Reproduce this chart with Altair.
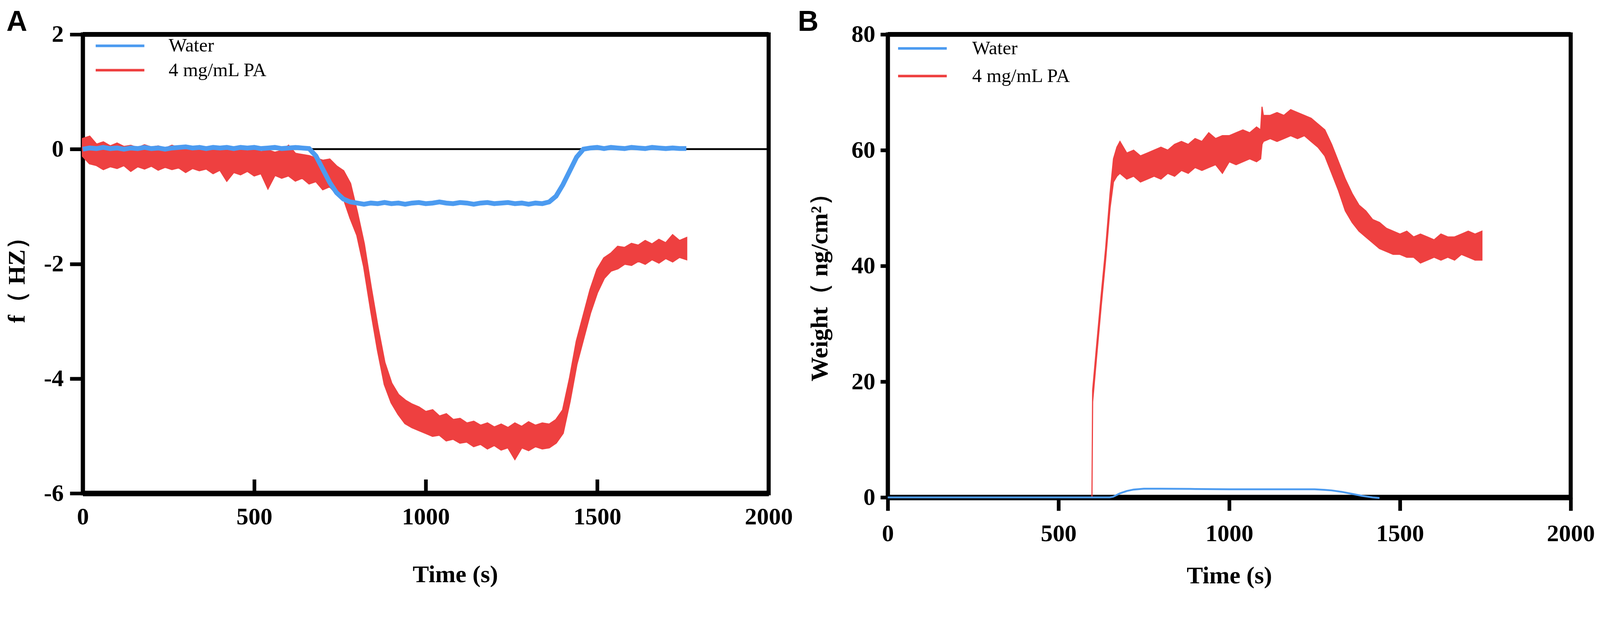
import altair as alt
import pandas as pd

BLUE = "#4C9BF0"
RED = "#EE4040"
SERIES = ["Water", "4 mg/mL PA"]

# ---------------- Panel A: frequency shift f (Hz) ----------------
tA = list(range(0, 1761, 20))  # 89 sample times (s)

# upper edge of the noisy red band (4 mg/mL PA)
a_red_hi = [
    0.18, 0.22, 0.08, 0.12, 0.05, 0.10, 0.04, 0.06, 0.02, 0.07,
    0.03, 0.05, 0.01, 0.06, 0.02, 0.04, -0.01, 0.03, 0.00, 0.05,
    -0.02, 0.02, -0.03, 0.01, -0.04, 0.00, -0.05, -0.02, -0.06, -0.03,
    0.06, -0.08, -0.10, -0.12, -0.16, -0.20, -0.18, -0.30, -0.38, -0.60,
    -1.10, -1.65, -2.40, -3.10, -3.72, -4.08, -4.28, -4.38, -4.45, -4.50,
    -4.58, -4.55, -4.66, -4.62, -4.72, -4.70, -4.78, -4.75, -4.82, -4.78,
    -4.85, -4.80, -4.86, -4.78, -4.84, -4.76, -4.82, -4.78, -4.80, -4.72,
    -4.55, -4.00, -3.35, -2.90, -2.45, -2.10, -1.90, -1.82, -1.70, -1.72,
    -1.65, -1.68, -1.60, -1.66, -1.58, -1.64, -1.50, -1.60, -1.55,
]
# lower edge of the noisy red band
a_red_lo = [
    -0.12, -0.25, -0.28, -0.35, -0.30, -0.33, -0.28, -0.38, -0.30, -0.34,
    -0.29, -0.36, -0.31, -0.35, -0.32, -0.40, -0.33, -0.37, -0.34, -0.42,
    -0.36, -0.55, -0.40, -0.44, -0.38, -0.46, -0.42, -0.68, -0.45, -0.50,
    -0.46, -0.55, -0.50, -0.60, -0.56, -0.70, -0.65, -0.78, -0.85, -1.20,
    -1.50, -2.05, -2.80, -3.50, -4.10, -4.42, -4.62, -4.78, -4.85, -4.90,
    -4.95, -5.00, -4.98, -5.08, -5.05, -5.12, -5.10, -5.18, -5.14, -5.22,
    -5.16, -5.24, -5.20, -5.40, -5.20, -5.25, -5.18, -5.22, -5.20, -5.12,
    -4.95, -4.40, -3.75, -3.30, -2.85, -2.50, -2.25, -2.12, -2.08, -2.00,
    -2.02, -1.95, -2.00, -1.92, -1.98, -1.90, -1.96, -1.88, -1.92,
]
# water trace
a_water = [
    0.00, 0.02, 0.01, 0.03, 0.01, 0.02, 0.00, 0.02, 0.01, 0.03,
    0.01, 0.02, 0.00, 0.02, 0.03, 0.04, 0.02, 0.03, 0.01, 0.03,
    0.02, 0.03, 0.01, 0.03, 0.02, 0.03, 0.01, 0.02, 0.03, 0.01,
    0.02, 0.03, 0.02, 0.01, -0.12, -0.35, -0.58, -0.76, -0.87, -0.92,
    -0.94, -0.96, -0.94, -0.95, -0.93, -0.95, -0.94, -0.96, -0.94, -0.93,
    -0.95, -0.94, -0.92, -0.94, -0.95, -0.93, -0.94, -0.96, -0.94, -0.93,
    -0.95, -0.94, -0.93, -0.95, -0.94, -0.96, -0.94, -0.95, -0.92, -0.82,
    -0.62, -0.38, -0.14, 0.00, 0.02, 0.03, 0.01, 0.03, 0.02, 0.01,
    0.03, 0.02, 0.01, 0.03, 0.02, 0.01, 0.02, 0.01, 0.01,
]

# ---------------- Panel B: adsorbed mass (ng/cm2) ----------------
tB_red = [0, 598, 600, 612, 625, 638, 651, 661, 671, 680,
          700, 720, 740, 760, 780, 800, 820, 840, 860, 880,
          900, 920, 940, 960, 980, 1000, 1020, 1040, 1060, 1080,
          1092, 1096, 1100, 1120, 1140, 1160, 1180, 1200, 1220, 1240,
          1260, 1280, 1300, 1320, 1340, 1360, 1380, 1400, 1420, 1440,
          1460, 1480, 1500, 1520, 1540, 1560, 1580, 1600, 1620, 1640,
          1660, 1680, 1700, 1720, 1740]
b_red_lo = [0, 0, 16.5, 24.5, 33.0, 41.0, 50.0, 54.5, 55.5, 56.0,
            55.0, 55.5, 54.5, 55.0, 55.5, 55.0, 56.0, 55.5, 56.5, 56.0,
            57.0, 56.5, 57.0, 57.5, 56.0, 58.0, 57.5, 58.0, 58.5, 58.0,
            58.5, 61.0, 61.5, 62.0, 61.5, 62.0, 62.5, 62.0, 62.5, 61.5,
            60.5, 59.0, 56.0, 53.0, 49.5, 47.5, 46.0, 45.0, 44.0, 43.0,
            42.5, 42.0, 42.0, 41.5, 41.5, 40.5, 41.0, 41.5, 41.0, 41.5,
            41.0, 42.0, 41.5, 41.0, 41.0]
b_red_hi = [0, 0, 18.5, 26.5, 35.0, 43.0, 52.5, 58.5, 60.5, 61.5,
            59.5, 60.0, 59.0, 59.5, 60.0, 60.5, 60.0, 61.0, 61.5, 61.0,
            62.0, 61.5, 63.0, 62.0, 62.5, 62.5, 63.0, 63.5, 63.0, 64.0,
            63.5, 67.5, 66.0, 66.0, 66.5, 66.0, 67.0, 66.5, 66.0, 65.5,
            64.5, 63.5, 61.0, 58.0, 55.0, 52.5, 50.5, 49.5, 48.0, 47.5,
            46.5, 46.0, 45.5, 46.0, 45.0, 45.5, 45.0, 44.5, 45.5, 45.0,
            45.0, 45.5, 46.0, 45.5, 46.0]
tB_water = [0, 650, 660, 680, 700, 720, 750, 800, 900, 1000,
            1100, 1200, 1250, 1280, 1300, 1330, 1360, 1390, 1420, 1440]
b_water = [0, 0, 0.1, 0.7, 1.1, 1.35, 1.5, 1.5, 1.45, 1.4,
           1.4, 1.4, 1.4, 1.3, 1.2, 0.95, 0.6, 0.25, 0.0, -0.1]

X_TICKS = [0, 500, 1000, 1500, 2000]
A_INNER_TICKS = [500, 1000, 1500]
A_Y_TICKS = [-6, -4, -2, 0, 2]
B_Y_TICKS = [0, 20, 40, 60, 80]
A_TOP = [2]
A_ZERO = [0]
B_TOP = [80]

dfA_red = pd.DataFrame({"t": tA, "lo": a_red_lo, "hi": a_red_hi})
dfA_w = pd.DataFrame({"t": tA, "v": a_water, "series": SERIES[0]})
dfB_red = pd.DataFrame({"t": tB_red, "lo": b_red_lo, "hi": b_red_hi})
dfB_w = pd.DataFrame({"t": tB_water, "v": b_water, "series": SERIES[0]})

WA, HA = 1860, 1245
WB, HB = 1852, 1256

SERIF = "Liberation Serif"
LBL = "'' + datum.value"

xA = alt.Scale(domain=[0, 2000], nice=False, zero=False)
yA = alt.Scale(domain=[-6, 2], nice=False, zero=False)
xB = alt.Scale(domain=[0, 2000], nice=False, zero=False)
yB = alt.Scale(domain=[0, 80], nice=False, zero=False)


def legend(lx, ly, off, rowpad):
    return alt.Legend(
        orient="none", legendX=lx, legendY=ly, title=None, direction="vertical",
        symbolType="M-3,0L3,0", symbolSize=1936, symbolStrokeWidth=7,
        labelFont=SERIF, labelFontSize=52, labelFontWeight="normal",
        labelColor="black", labelOffset=off, rowPadding=rowpad, padding=0,
        labelLimit=1000,
    )


# ---- axes
yAxisA = alt.Axis(
    values=A_Y_TICKS, tickSize=35, tickWidth=10, labelPadding=17,
    labelExpr=LBL, domainWidth=11, title="f（ HZ）",
    titleX=-178, titleY=650, titleAngle=270, titleBaseline="middle",
    titleAlign="center")
xAxisA = alt.Axis(
    orient="bottom", values=X_TICKS, ticks=False, tickSize=0,
    labelPadding=33, labelFlush=False, labelExpr=LBL, domainWidth=15,
    title="Time (s)", titleX=1010, titleY=241, titleBaseline="alphabetic")
xInnerA = alt.Axis(
    orient="top", offset=-HA, values=A_INNER_TICKS, tickSize=38,
    tickWidth=10, labels=False, domain=False, title=None)
yAxisB = alt.Axis(
    values=B_Y_TICKS, tickSize=20, tickWidth=10, labelPadding=14,
    labelExpr=LBL, domainWidth=11, title="Weight（ ng/cm²）",
    titleX=-184, titleY=670, titleAngle=270, titleBaseline="middle",
    titleAlign="center")
xAxisB = alt.Axis(
    orient="bottom", values=X_TICKS, tickSize=36, tickWidth=10,
    labelPadding=31, labelFlush=False, labelExpr=LBL, domainWidth=15,
    title="Time (s)", titleX=926, titleY=233, titleBaseline="alphabetic")

# ---- Panel A layers
zeroA = alt.Chart(pd.DataFrame({"v": A_ZERO})).mark_rule(
    color="black", strokeWidth=5
).encode(y=alt.Y("v:Q", scale=yA, axis=yAxisA))

topA = alt.Chart(pd.DataFrame({"v": A_TOP})).mark_rule(
    color="black", strokeWidth=13
).encode(y=alt.Y("v:Q", scale=yA, axis=yAxisA))

redA = alt.Chart(dfA_red).mark_area(
    color=RED, stroke=RED, strokeWidth=5, opacity=1
).encode(
    x=alt.X("t:Q", scale=xA, axis=xAxisA),
    y=alt.Y("lo:Q", scale=yA, axis=yAxisA),
    y2="hi:Q",
)

blueA = alt.Chart(dfA_w).mark_line(strokeWidth=13).encode(
    x=alt.X("t:Q", scale=xA, axis=xInnerA),
    y=alt.Y("v:Q", scale=yA, axis=yAxisA),
    color=alt.Color("series:N", scale=alt.Scale(domain=SERIES, range=[BLUE, RED]),
                    legend=legend(75, 5, 106, 14)),
)

panelA = alt.layer(zeroA, topA, redA, blueA).resolve_axis(x="independent").properties(
    width=WA, height=HA,
    title=alt.TitleParams("A", anchor="start", frame="group", font="Liberation Sans",
                          fontSize=78, fontWeight="bold", color="black",
                          dx=-207, dy=24, baseline="alphabetic", offset=-76),
)

# ---- Panel B layers
topB = alt.Chart(pd.DataFrame({"v": B_TOP})).mark_rule(
    color="black", strokeWidth=13
).encode(y=alt.Y("v:Q", scale=yB, axis=yAxisB))

redB = alt.Chart(dfB_red).mark_area(
    color=RED, stroke=RED, strokeWidth=3, opacity=1
).encode(
    x=alt.X("t:Q", scale=xB, axis=xAxisB),
    y=alt.Y("lo:Q", scale=yB, axis=yAxisB),
    y2="hi:Q",
)

blueB = alt.Chart(dfB_w).mark_line(strokeWidth=5).encode(
    x=alt.X("t:Q", scale=xB, axis=xAxisB),
    y=alt.Y("v:Q", scale=yB, axis=yAxisB),
    color=alt.Color("series:N", scale=alt.Scale(domain=SERIES, range=[BLUE, RED]),
                    legend=legend(68, 12, 109, 23)),
)

panelB = alt.layer(topB, redB, blueB).properties(
    width=WB, height=HB,
    title=alt.TitleParams("B", anchor="start", frame="group", font="Liberation Sans",
                          fontSize=78, fontWeight="bold", color="black",
                          dx=-244, dy=24, baseline="alphabetic", offset=-76),
)

chart = alt.hconcat(panelA, panelB, spacing=2).resolve_scale(
    color="independent"
).resolve_legend(color="independent").configure_view(
    stroke="black", strokeWidth=11
).configure_axis(
    grid=False, domainColor="black", tickColor="black", labelColor="black",
    titleColor="black", labelFont=SERIF, labelFontSize=65, labelFontWeight="bold",
    titleFont=SERIF, titleFontSize=66, titleFontWeight="bold",
).properties(padding={"left": -1, "top": -39, "right": 0, "bottom": 0})

chart.save("out.html", embed_options={"renderer": "svg", "actions": False})
